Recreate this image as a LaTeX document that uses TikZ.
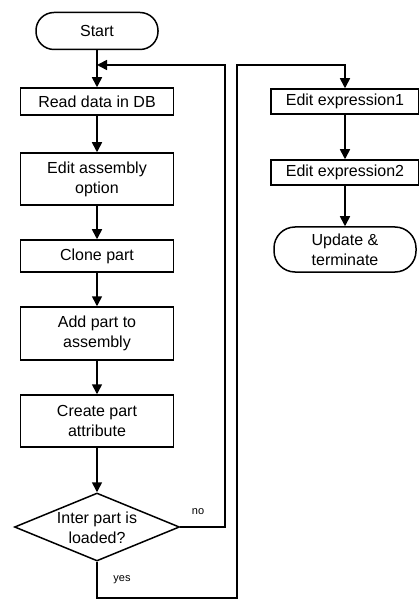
\documentclass[tikz,border=0pt]{standalone}
\usepackage{fontspec}
\setmainfont{Liberation Sans}
\usetikzlibrary{arrows.meta,shapes.geometric}
\begin{document}
\begin{tikzpicture}[x=1pt,y=1pt,
  every node/.style={font=\fontsize{16}{20}\selectfont, align=center, inner sep=0pt},
  procbox/.style={draw, line width=1.5pt, rectangle, minimum width=153pt},
  rightbox/.style={draw, line width=1.5pt, rectangle, minimum width=148pt},
  terminal/.style={draw, line width=1.5pt, rectangle},
  decision/.style={draw, line width=1.5pt, diamond, aspect=2.43, minimum width=165pt, minimum height=68pt},
  flow/.style={line width=1.6pt, -{Triangle[length=10pt,width=10pt]}},
  plain/.style={line width=1.6pt},
  tag/.style={font=\fontsize{11}{13}\selectfont}]
\useasboundingbox (0,0) rectangle (419,-601);

% main column
\node[terminal, rounded corners=18pt, minimum width=122pt, minimum height=37pt] (start) at (97,-31) {Start};
\node[procbox, minimum height=27pt] (read) at (97,-101.5) {Read data in DB};
\node[procbox, minimum height=52pt] (opt) at (97,-179) {Edit assembly\\option};
\node[procbox, minimum height=32pt] (clone) at (97,-256) {Clone part};
\node[procbox, minimum height=53pt] (add) at (97,-333.5) {Add part to\\assembly};
\node[procbox, minimum height=52pt] (attr) at (97,-421) {Create part\\attribute};
\node[decision] (dec) at (97,-527) {};
\node (dectext) at (97,-528) {Inter part is\\loaded?};

% right column
\node[rightbox, minimum height=25pt] (ex1) at (345,-101.5) {Edit expression1};
\node[rightbox, minimum height=25pt] (ex2) at (345,-172.5) {Edit expression2};
\node[terminal, rounded corners=21pt, minimum width=142pt, minimum height=45pt] (upd) at (345,-249.5) {Update \&\\terminate};

% loop and branch corners
\coordinate (join) at (97,-65);
\coordinate (noA) at (225,-527);
\coordinate (noB) at (225,-65);
\coordinate (yesA) at (97,-598);
\coordinate (yesB) at (237,-598);
\coordinate (yesC) at (237,-65);
\coordinate (yesD) at (345,-65);

% connectors
\draw[plain] (start.south) -- (join);
\draw[flow] (join) -- (read.north);
\draw[flow] (read) -- (opt);
\draw[flow] (opt) -- (clone);
\draw[flow] (clone) -- (add);
\draw[flow] (add) -- (attr);
\draw[flow] (attr) -- (dec.north);
\draw[flow] (dec.east) -- (noA) -- (noB) -- (join);
\draw[flow] (dec.south) -- (yesA) -- (yesB) -- (yesC) -- (yesD) -- (ex1.north);
\draw[flow] (ex1) -- (ex2);
\draw[flow] (ex2) -- (upd);

% branch labels
\node[tag] (nolabel) at (198,-512) {no};
\node[tag] (yeslabel) at (122,-580) {yes};
\end{tikzpicture}
\end{document}
